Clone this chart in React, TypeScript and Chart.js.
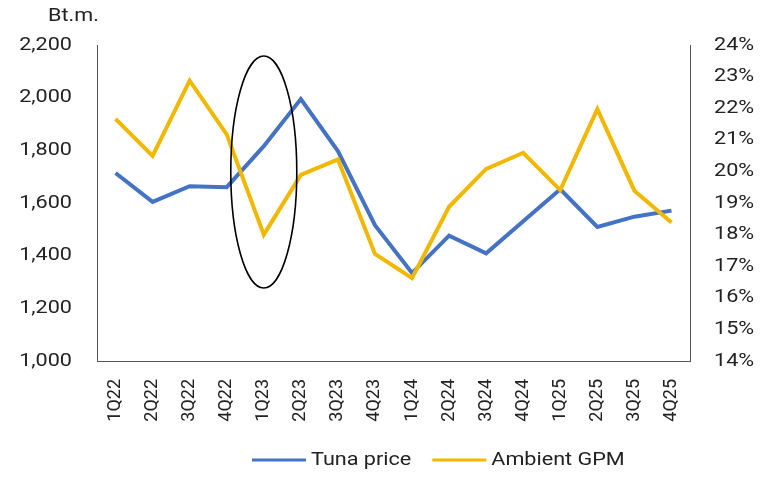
import React, { useEffect, useRef } from "react";
import { Chart, registerables } from "chart.js";

Chart.register(...registerables);

const categories = ["1Q22","2Q22","3Q22","4Q22","1Q23","2Q23","3Q23","4Q23","1Q24","2Q24","3Q24","4Q24","1Q25","2Q25","3Q25","4Q25"];
const tunaPrice = [1714, 1604, 1664, 1660, 1816, 1995, 1797, 1516, 1334, 1476, 1409, 1531, 1652, 1509, 1548, 1571];
const ambientGPM = [21.66, 20.49, 22.87, 21.17, 18.0, 19.89, 20.38, 17.39, 16.62, 18.88, 20.08, 20.59, 19.41, 21.97, 19.39, 18.38];
const seriesLabels = ["Tuna price", "Ambient GPM"];
const seriesColors = ["#4472C4", "#F2B800"];
const leftUnit = "Bt.m.";
// highlight ellipse: category index, and its top/bottom in left-axis values
const highlightIndex = [4];
const highlightRange = [2158, 1277];

const FONT = "Roboto, 'Noto Sans', sans-serif";
const SX = 1.2; // horizontal text stretch seen in the reference

function drawStretched(ctx: any, text: string, x: number, y: number, align: "left" | "right") {
  ctx.save();
  ctx.translate(x, y);
  ctx.scale(SX, 1);
  ctx.textAlign = align;
  ctx.fillText(text, 0, 0);
  ctx.restore();
}

export default function App() {
  const ref = useRef<HTMLCanvasElement>(null);
  useEffect(() => {
    if (!ref.current) return;
    const overlay = {
      id: "overlay",
      afterDatasetsDraw(chart: any) {
        const ctx = chart.ctx;
        const x = chart.scales.x;
        const y = chart.scales.y;
        const cx = x.getPixelForValue(highlightIndex[0]);
        const top = y.getPixelForValue(highlightRange[0]);
        const bot = y.getPixelForValue(highlightRange[1]);
        ctx.save();
        ctx.beginPath();
        ctx.ellipse(cx, (top + bot) / 2, 33, (bot - top) / 2, 0, 0, Math.PI * 2);
        ctx.strokeStyle = "#000";
        ctx.lineWidth = 1.6;
        ctx.stroke();
        ctx.restore();
      },
      afterDraw(chart: any) {
        const ctx = chart.ctx;
        const yL = chart.scales.y;
        const yR = chart.scales.y1;
        ctx.save();
        ctx.fillStyle = "#222";
        ctx.font = `18px ${FONT}`;
        ctx.textBaseline = "middle";
        drawStretched(ctx, leftUnit, 48, 16, "left");
        yL.ticks.forEach((t: any) => {
          drawStretched(ctx, Number(t.value).toLocaleString("en-US"), yL.right - 25, yL.getPixelForValue(t.value), "right");
        });
        yR.ticks.forEach((t: any) => {
          drawStretched(ctx, `${t.value}%`, yR.left + 24, yR.getPixelForValue(t.value), "left");
        });
        // legend
        const ly = 460;
        let lx = 252;
        seriesLabels.forEach((lab, i) => {
          ctx.strokeStyle = seriesColors[i];
          ctx.lineWidth = 3;
          ctx.beginPath();
          ctx.moveTo(lx, ly);
          ctx.lineTo(lx + 54, ly);
          ctx.stroke();
          ctx.fillStyle = "#222";
          drawStretched(ctx, lab, lx + 59, ly, "left");
          lx += 59 + ctx.measureText(lab).width * SX + 21;
        });
        ctx.restore();
      },
    };
    const chart = new Chart(ref.current, {
      type: "line",
      data: {
        labels: categories,
        datasets: [
          {
            label: seriesLabels[0],
            data: tunaPrice,
            borderColor: seriesColors[0],
            backgroundColor: seriesColors[0],
            borderWidth: 4,
            pointRadius: 0,
            yAxisID: "y",
            order: 1,
          },
          {
            label: seriesLabels[1],
            data: ambientGPM,
            borderColor: seriesColors[1],
            backgroundColor: seriesColors[1],
            borderWidth: 4,
            pointRadius: 0,
            yAxisID: "y1",
            order: 0,
          },
        ],
      },
      options: {
        responsive: false,
        animation: false,
        layout: { padding: { top: 45, left: 0, right: 0, bottom: 0 } },
        plugins: { legend: { display: false }, tooltip: { enabled: false } },
        scales: {
          x: {
            offset: true,
            grid: { display: false, drawTicks: false },
            border: { display: true, color: "#555", width: 1 },
            ticks: {
              minRotation: 90,
              maxRotation: 90,
              padding: 18,
              color: "#222",
              font: { family: FONT, size: 18 },
            },
            afterFit(s: any) { s.height = 121; },
          },
          y: {
            position: "left",
            min: 1000,
            max: 2200,
            grid: { display: false, drawTicks: false },
            border: { display: true, color: "#555", width: 1 },
            ticks: { stepSize: 200, display: false },
            afterFit(s: any) { s.width = 97; },
          },
          y1: {
            position: "right",
            min: 14,
            max: 24,
            grid: { display: false, drawTicks: false },
            border: { display: true, color: "#555", width: 1 },
            ticks: { stepSize: 1, display: false },
            afterFit(s: any) { s.width = 73; },
          },
        },
      },
      plugins: [overlay],
    });
    return () => chart.destroy();
  }, []);
  return (
    <div style={{ position: "fixed", left: 0, top: 0, width: 763, height: 482, background: "#fff" }}>
      <canvas ref={ref} width={763} height={482} style={{ width: 763, height: 482 }} />
    </div>
  );
}
